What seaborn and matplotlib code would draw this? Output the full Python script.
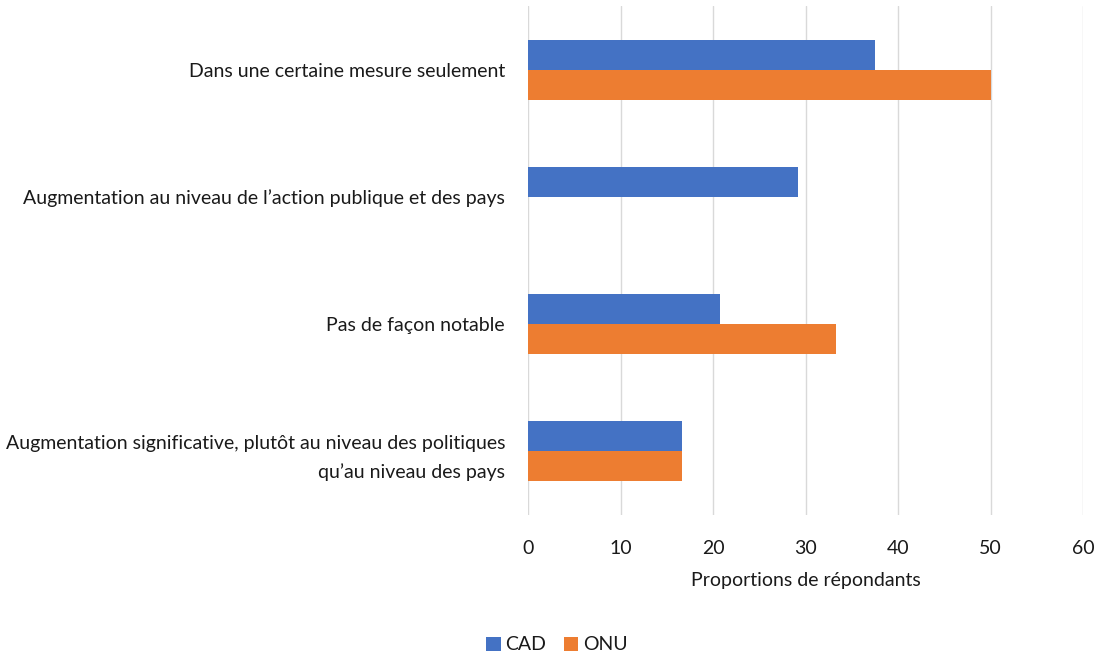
import matplotlib
matplotlib.use("Agg")
import matplotlib.pyplot as plt
import seaborn as sns
import pandas as pd

categories = [
    "Dans une certaine mesure seulement",
    "Augmentation au niveau de l\u2019action publique et des pays",
    "Pas de fa\u00e7on notable",
    "Augmentation significative, plut\u00f4t au niveau des politiques\nqu\u2019au niveau des pays",
]
cad_values = [37.5, 29.2, 20.8, 16.7]
onu_values = [50.0, 0.0, 33.3, 16.7]
series_names = ["CAD", "ONU"]
x_ticks = [0, 10, 20, 30, 40, 50, 60]

df = pd.DataFrame({
    "cat": categories * 2,
    "val": cad_values + onu_values,
    "series": [series_names[0]] * 4 + [series_names[1]] * 4,
})

sns.set_theme(style="white")
plt.rcParams["font.family"] = ["Lato", "DejaVu Sans"]

fig = plt.figure(figsize=(11.01, 6.56), dpi=100)
ax = fig.add_axes([528 / 1101, 1 - 515 / 656, 555 / 1101, 509 / 656])

sns.barplot(data=df, y="cat", x="val", hue="series", order=categories,
            hue_order=series_names, palette=["#4472C4", "#ED7D31"],
            orient="h", width=0.47, ax=ax, legend=True, saturation=1,
            linewidth=0)

ax.set_xlim(0, 60)
ax.set_xticks(x_ticks)
ax.set_ylim(3.5, -0.5)
for s in ax.spines.values():
    s.set_visible(False)
ax.grid(axis="x", color="#D9D9D9", linewidth=1)
ax.set_axisbelow(True)
ax.tick_params(axis="both", length=0, labelsize=14, colors="#1a1a1a")
ax.tick_params(axis="y", pad=16.5)
ax.tick_params(axis="x", pad=18)
ax.set_ylabel("")
ax.set_xlabel("Proportions de r\u00e9pondants", fontsize=14, color="#1a1a1a", labelpad=11)
for lbl in ax.get_yticklabels():
    lbl.set_horizontalalignment("right")
    lbl.set_multialignment("right")
    lbl.set_linespacing(1.75)

ax.get_legend().remove()
handles, labels = ax.get_legend_handles_labels()
fig.legend(handles[:2], labels[:2], loc="center", bbox_to_anchor=(557 / 1101, 1 - 645 / 656),
           ncol=2, frameon=False, fontsize=14, handlelength=0.75, handleheight=0.75,
           handletextpad=0.25, columnspacing=0.9, labelcolor="#1a1a1a")

fig.savefig("out.png", dpi=100)
